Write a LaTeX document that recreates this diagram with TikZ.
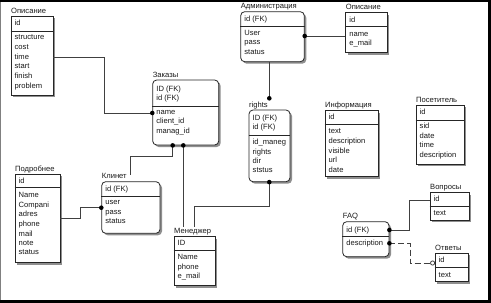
\documentclass[tikz,border=0pt]{standalone}
\usepackage{fontspec}
\setmainfont{Liberation Sans}
\usetikzlibrary{fit,shadows}
\tikzset{
  ln/.style={draw=black!85, line width=0.8pt},
  plainbox/.style={draw=black!85, line width=0.8pt, fill=white, inner sep=0pt,
    drop shadow={shadow xshift=2pt, shadow yshift=-2pt, fill=black!55, opacity=0.8}},
  roundbox/.style={plainbox, rounded corners=4pt},
  txt/.style={font=\fontsize{7.6}{9}\selectfont, text=black!90, inner sep=0pt,
    anchor=west, text height=5.5pt, text depth=1.5pt},
  conn/.style={draw=black!75, line width=0.8pt},
  dashconn/.style={conn, dash pattern=on 6pt off 3pt},
  dot/.style={circle, fill=black, inner sep=0pt, minimum size=4.6pt},
  odot/.style={circle, draw=black!75, fill=white, line width=0.8pt, inner sep=0pt, minimum size=4.2pt},
}
% #1 name, #2 label, #3 x1, #4 y1, #5 x2, #6 y2, #7 separator y, #8 box style
\newcommand\ent[8]{%
  \node[#8, fit={(#3,#4) (#5,#6)}] (#1) {};
  \draw[ln] (#1.west |- 0,#7) -- (#1.east |- 0,#7);
  \node[txt] (#1-lbl) at (#3,#4-5) {#2};
}
% #1 name, #2 x1, #3 list y/text
\newcommand\entrows[3]{%
  \foreach \rowy/\rowt [count=\k] in {#3} {\node[txt] (#1-r\k) at (#2+3.5,\rowy) {\rowt};}
}
\begin{document}
\begin{tikzpicture}[x=1pt,y=-1pt]
\useasboundingbox (0,0) rectangle (491,303);
\fill[white] (0,0) rectangle (491,303);
% frame
\draw[gray, line width=1pt] (0.5,0) -- (0.5,303);
\fill[black] (0,0) rectangle (491,2);
\fill[black] (0,300) rectangle (491,303);
\fill[black] (488,0) rectangle (490.5,303);

% entities
\ent{opisA}{Описание}{11}{16}{53}{95}{31}{plainbox}
\entrows{opisA}{11}{23.5/id, 37.7/structure, 47.4/cost, 57/time, 66.7/start, 76.4/finish, 86/problem}

\ent{zak}{Заказы}{152.7}{80}{218.7}{145}{106}{roundbox}
\entrows{zak}{152.7}{89/ID (FK), 98/id (FK), 112/name, 121.5/client\_id, 131/manag\_id}

\ent{adm}{Администрация}{240.7}{11.7}{304.3}{61.7}{26}{roundbox}
\entrows{adm}{240.7}{19/id (FK), 33.3/User, 42.7/pass, 52.3/status}

\ent{opisB}{Описание}{345.7}{12.7}{387.3}{52.7}{26.7}{plainbox}
\entrows{opisB}{345.7}{20/id, 34.3/name, 43.3/e\_mail}

\ent{rights}{rights}{249}{110}{290}{181.7}{135.7}{roundbox}
\entrows{rights}{249}{118.3/ID (FK), 127.3/id (FK), 142.7/id\_maneg, 152.3/rights, 161.7/dir, 170.7/ststus}

\ent{info}{Информация}{325}{110.7}{378.3}{176.7}{124}{plainbox}
\entrows{info}{325}{117.3/id, 131.7/text, 141.3/description, 151/visible, 160.3/url, 170/date}

\ent{pos}{Посетитель}{416}{105}{464.3}{164}{120}{plainbox}
\entrows{pos}{416}{112.7/id, 126.7/sid, 136/date, 145.7/time, 155.7/description}

\ent{vopr}{Вопросы}{430}{192.7}{469}{220}{206}{plainbox}
\entrows{vopr}{430}{199.3/id, 213.3/text}

\ent{faq}{FAQ}{342.7}{221.7}{389}{256.7}{236.7}{roundbox}
\entrows{faq}{342.7}{230/id (FK), 243.3/description}

\ent{otv}{Ответы}{435}{253.3}{468.3}{281.7}{267.3}{plainbox}
\entrows{otv}{435}{260/id, 275/text}

\ent{podr}{Подробнее}{15}{174}{60}{262.7}{187.7}{plainbox}
\entrows{podr}{15}{181/id, 195/Name, 205/Compani, 214.3/adres, 224/phone, 234/mail, 243.3/note, 252.7/status}

\ent{klient}{Клинет}{101.7}{181.7}{160}{233.3}{196.7}{roundbox}
\entrows{klient}{101.7}{189.3/id (FK), 202.7/user, 212.3/pass, 221.7/status}

\ent{men}{Менеджер}{174}{236.7}{215}{285.7}{250}{plainbox}
\entrows{men}{174}{243/ID, 257.7/Name, 267/phone, 276.7/e\_mail}

% connectors
\coordinate (b1) at (104,113);
\draw[conn] (opisA.east |- 0,57) -| (b1) -- (zak.west |- b1);
\node[dot] (d1) at (zak.west |- b1) {};

\coordinate (b2) at (0,36);
\draw[conn] (adm.east |- b2) -- (opisB.west |- b2);
\node[dot] (d2) at (adm.east |- b2) {};

\coordinate (e3) at (269.3,98.3);
\draw[conn] (adm.south -| e3) -- (e3);
\node[dot] (d3) at (e3) {};

\coordinate (z1) at (172.7,0);
\coordinate (b4) at (130,156.5);
\coordinate (e4) at (130,174.5);
\draw[conn] (zak.south -| z1) |- (b4) -- (e4);
\node[dot] (d4) at (zak.south -| z1) {};

\coordinate (z2) at (183.3,227);
\draw[conn] (zak.south -| z2) -- (z2);
\node[dot] (d5) at (zak.south -| z2) {};

\coordinate (r1) at (269.3,206);
\coordinate (e6) at (194.3,227);
\draw[conn] (rights.south -| r1) -- (r1) -| (e6);
\node[dot] (d6) at (rights.south -| r1) {};

\coordinate (b7) at (80.7,207.7);
\draw[conn] (podr.east |- 0,218.3) -| (b7) -- (klient.west |- b7);
\node[dot] (d7) at (klient.west |- b7) {};

\coordinate (b8) at (409.3,200);
\draw[conn] (faq.east |- 0,230) -| (b8) -- (vopr.west |- b8);
\node[dot] (d8) at (faq.east |- 0,230) {};

\coordinate (b9) at (410,263);
\node[odot] (o9) at (432.6,263) {};
\draw[dashconn] (faq.east |- 0,243.3) -| (b9) -- (o9.west);
\node[dot] (d9) at (faq.east |- 0,243.3) {};
\end{tikzpicture}
\end{document}
